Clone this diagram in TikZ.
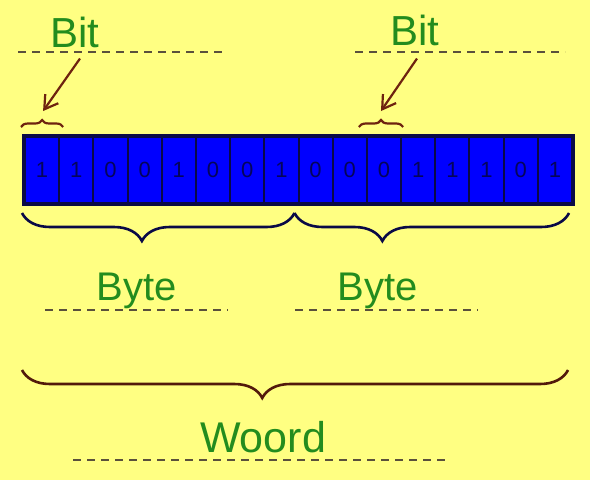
\documentclass[tikz,border=0pt]{standalone}
\usepackage{fontspec}
\setmainfont{Liberation Sans}
\usetikzlibrary{arrows.meta, positioning, decorations.pathreplacing, calc}

\definecolor{paper}{RGB}{255,255,130}
\definecolor{leaf}{RGB}{35,140,30}
\definecolor{navy}{RGB}{10,10,70}
\definecolor{digit}{RGB}{5,5,90}
\definecolor{rust}{RGB}{110,35,15}
\definecolor{guideline}{RGB}{90,80,60}

\begin{document}
\begin{tikzpicture}[x=1pt, y=-1pt,
  cell/.style={rectangle, draw=navy, line width=2pt, fill=blue, minimum width=34.19pt,
    minimum height=66pt, inner sep=0pt, text=digit, font=\fontsize{22}{24}\selectfont},
  lbl/.style={anchor=base, text=leaf, inner sep=3pt, font=\fontsize{42}{48}\selectfont},
  guide/.style={draw=guideline, line width=2.4pt, dash pattern=on 8pt off 6pt},
  bytebrace/.style={draw=navy, line width=2.6pt, decorate,
    decoration={brace, amplitude=28pt}},
  bitbrace/.style={draw=rust, line width=2.2pt, decorate,
    decoration={brace, amplitude=7pt}},
  pointer/.style={draw=rust, line width=2.2pt, -{Straight Barb[length=13pt, width=16pt]}}]
  \fill[paper] (0,0) rectangle (590,480);

  % dashed guide lines
  \draw[guide] (18,52) -- (225,52);
  \draw[guide] (355,52) -- (565,52);
  \draw[guide] (45,310) -- (228,310);
  \draw[guide] (295,310) -- (478,310);
  \draw[guide] (73,460) -- (448,460);

  % the 16 bits
  \foreach \b [count=\i] in {1,1,0,0,1,0,0,1,0,0,0,1,1,1,0,1}
    \node[cell] (c\i) at ({25+34.19*(\i-0.5)},170) {\b};
  \draw[navy, line width=3.5pt] (c1.north west) rectangle (c16.south east);

  % labels
  \node[lbl] (bit1) at (75,47) {Bit};
  \node[lbl] (bit2) at (415,45) {Bit};
  \node[lbl, font=\fontsize{40}{46}\selectfont] (byte1) at (137,300) {Byte};
  \node[lbl, font=\fontsize{40}{46}\selectfont] (byte2) at (378,300) {Byte};
  \node[lbl, font=\fontsize{43}{50}\selectfont] (word) at (263,452) {Woord};

  % braces
  \draw[bitbrace] ([shift={(-3,-9)}]c1.north west) -- ([shift={(3,-9)}]c1.north east);
  \draw[bitbrace] ([shift={(-7,-9)}]c11.north west) -- ([shift={(1,-9)}]c11.north east);
  \draw[bytebrace, decoration={aspect=0.56}]
    ([shift={(-5,9)}]c8.south east) -- ([shift={(-2,9)}]c1.south west);
  \draw[bytebrace, decoration={aspect=0.68}]
    ([shift={(-4,9)}]c16.south east) -- ([shift={(-3,9)}]c9.south west);
  \draw[bytebrace, draw=rust!75!black, decoration={aspect=0.56}]
    ([shift={(-5,166)}]c16.south east) -- ([shift={(-2,166)}]c1.south west);

  % arrows
  \coordinate (tip1) at ($(c1.north)+(1,-25)$);
  \coordinate (tip2) at ($(c11.north)+(-3,-25)$);
  \draw[pointer] ([shift={(5,8)}]bit1.south) -- (tip1);
  \draw[pointer] ([shift={(2,10)}]bit2.south) -- (tip2);
\end{tikzpicture}
\end{document}
